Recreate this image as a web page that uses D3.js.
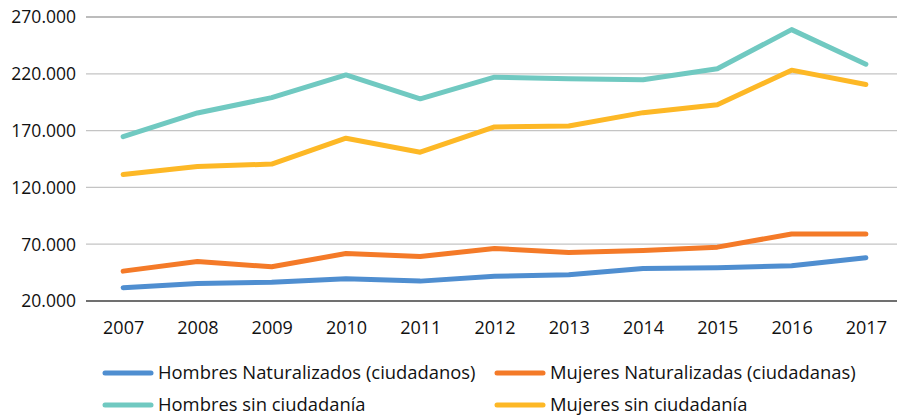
<!DOCTYPE html>
<html>
<head>
<meta charset="utf-8">
<script src="https://cdn.jsdelivr.net/npm/d3@7"></script>
<style>
  html, body { margin: 0; padding: 0; background: #fff; }
  svg { display: block; font-family: 'Open Sans', sans-serif; }
</style>
</head>
<body>
<div class="container"></div>
<script>
const years = ['2007', '2008', '2009', '2010', '2011', '2012', '2013', '2014', '2015', '2016', '2017']
const yTicks = [20000, 70000, 120000, 170000, 220000, 270000]

const hombresNat = [31700, 35500, 36400, 39600, 37500, 41700, 43100, 48700, 49200, 51000, 58000]
const mujeresNat = [46300, 54800, 50100, 61800, 59200, 66200, 62700, 64500, 67400, 79000, 79000]
const hombresSin = [164700, 185500, 199000, 219000, 198000, 217000, 215600, 214700, 224400, 258900, 228500]
const mujeresSin = [131400, 138400, 140500, 163300, 151000, 173200, 174000, 185800, 192800, 223200, 210600]

const seriesNames = [
  'Hombres Naturalizados (ciudadanos)',
  'Mujeres Naturalizadas (ciudadanas)',
  'Hombres sin ciudadanía',
  'Mujeres sin ciudadanía'
]
const colors = ['#4f8ed0', '#f47a28', '#70c9c1', '#fdb826']

const series = [hombresNat, mujeresNat, hombresSin, mujeresSin].map((vals, i) => ({
  name: seriesNames[i],
  color: colors[i],
  values: vals.map((v, j) => ({ year: years[j], value: v }))
}))

const w = 897
const h = 416

const svg = d3.select('.container')
  .append('svg')
  .attr('width', w)
  .attr('height', h)

const xScale = d3.scalePoint()
  .domain(years)
  .range([86, 903])
  .padding(0.5)

const yScale = d3.scaleLinear()
  .domain([20000, 270000])
  .range([301, 17])

const esFmt = d3.formatLocale({ decimal: ',', thousands: '.', grouping: [3], currency: ['', '€'] }).format(',d')

// gridlines
svg.append('g')
  .selectAll('line')
  .data(yTicks.slice(1))
  .enter()
  .append('line')
  .attr('x1', 86)
  .attr('x2', w)
  .attr('y1', d => yScale(d))
  .attr('y2', d => yScale(d))
  .attr('stroke', d => d === 270000 ? '#a6a6a6' : '#c4c4c4')
  .attr('stroke-width', 1.3)

const yAxis = d3.axisLeft(yScale)
  .tickValues(yTicks)
  .tickFormat(esFmt)
  .tickSize(0)
  .tickPadding(10)

svg.append('g')
  .attr('transform', 'translate(86, 0)')
  .call(yAxis)
  .call(g => g.select('.domain').remove())
  .call(g => g.selectAll('text')
    .attr('font-family', "'Open Sans', sans-serif")
    .attr('font-size', 17.5)
    .attr('fill', '#111')
    .attr('dy', '0.34em'))

const xAxis = d3.axisBottom(xScale)
  .tickSize(0)
  .tickPadding(20)

svg.append('g')
  .attr('transform', 'translate(0, 301)')
  .call(xAxis)
  .call(g => g.select('.domain')
    .attr('d', `M86,0H${w}`)
    .attr('stroke', '#404040')
    .attr('stroke-width', 1.5))
  .call(g => g.selectAll('text')
    .attr('font-family', "'Open Sans', sans-serif")
    .attr('font-size', 18)
    .attr('fill', '#111'))

const line = d3.line()
  .x(d => xScale(d.year))
  .y(d => yScale(d.value))

svg.append('g')
  .selectAll('path')
  .data(series)
  .enter()
  .append('path')
  .attr('d', d => line(d.values))
  .attr('fill', 'none')
  .attr('stroke', d => d.color)
  .attr('stroke-width', 5)
  .attr('stroke-linecap', 'round')
  .attr('stroke-linejoin', 'round')

// legend
const legendPos = [[105, 373], [497, 373], [105, 405], [497, 405]]
const legend = svg.append('g')
  .selectAll('g')
  .data(series)
  .enter()
  .append('g')
  .attr('transform', (d, i) => `translate(${legendPos[i][0]}, ${legendPos[i][1]})`)

legend.append('line')
  .attr('x1', 0)
  .attr('x2', 46)
  .attr('stroke', d => d.color)
  .attr('stroke-width', 5)
  .attr('stroke-linecap', 'round')

legend.append('text')
  .text(d => d.name)
  .attr('x', 53)
  .attr('dy', '0.35em')
  .attr('font-size', 18.4)
  .attr('fill', '#111')
</script>
</body>
</html>
